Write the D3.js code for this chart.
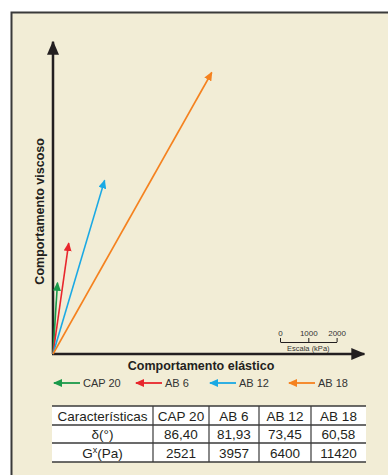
<!DOCTYPE html>
<html>
<head>
<meta charset="utf-8">
<script src="https://cdn.jsdelivr.net/npm/d3@7"></script>
<style>
  body { margin: 0; background: #fff; }
  svg { display: block; font-family: "Liberation Sans", Arial, sans-serif; }
</style>
</head>
<body>
<script>
// data
const series = ["CAP 20", "AB 6", "AB 12", "AB 18"];
const delta = [86.40, 81.93, 73.45, 60.58];      // phase angle (degrees)
const gstar = [2521, 3957, 6400, 11420];         // complex modulus
const colors = ["#1a9a4a", "#e8262c", "#1aa9e4", "#f5821f"];
const scaleTicks = [0, 1000, 2000];
const tableHeader = ["Características", ...series];

const width = 388;
const height = 475;
const origin = { x: 53, y: 354 };
const k = 0.0283; // px per unit, shared by vectors and scale bar

const svg = d3.select("body").append("svg")
    .attr("width", width)
    .attr("height", height);

// panel
svg.append("rect")
    .attr("x", 11.5).attr("y", 12.5)
    .attr("width", 390).attr("height", 480)
    .attr("fill", "#f2edd6")
    .attr("stroke", "#3a3a3a")
    .attr("stroke-width", 2);

const defs = svg.append("defs");
defs.append("marker")
    .attr("id", "axis-head")
    .attr("viewBox", "0 0 14 12")
    .attr("refX", 13).attr("refY", 6)
    .attr("markerWidth", 14).attr("markerHeight", 12)
    .attr("markerUnits", "userSpaceOnUse")
    .attr("orient", "auto")
    .append("path").attr("d", "M0,0L14,6L0,12Z").attr("fill", "#231f20");

colors.forEach((c, i) => {
    defs.append("marker")
        .attr("id", `head-${i}`)
        .attr("viewBox", "0 0 9 8")
        .attr("refX", 8).attr("refY", 4)
        .attr("markerWidth", 9).attr("markerHeight", 8)
        .attr("markerUnits", "userSpaceOnUse")
        .attr("orient", "auto-start-reverse")
        .append("path").attr("d", "M0,0L9,4L0,8Z").attr("fill", c);
});

const x = d3.scaleLinear().domain([0, 11000]).range([origin.x, origin.x + 11000 * k]);
const y = d3.scaleLinear().domain([0, 11000]).range([origin.y, origin.y - 11000 * k]);

// axes
svg.append("line")
    .attr("x1", x(0)).attr("y1", y(0))
    .attr("x2", x(0)).attr("y2", y(11000) - 1)
    .attr("stroke", "#231f20").attr("stroke-width", 2.5)
    .attr("marker-end", "url(#axis-head)");
svg.append("line")
    .attr("x1", x(0) - 1).attr("y1", y(0))
    .attr("x2", x(11000)).attr("y2", y(0))
    .attr("stroke", "#231f20").attr("stroke-width", 2.5)
    .attr("marker-end", "url(#axis-head)");

svg.append("text")
    .attr("transform", `translate(44,${(y(0) + y(11000)) / 2 + 13}) rotate(-90)`)
    .attr("text-anchor", "middle")
    .attr("font-size", 12.5).attr("font-weight", "bold").attr("fill", "#231f20")
    .text("Comportamento viscoso");

svg.append("text")
    .attr("x", 201).attr("y", 370)
    .attr("text-anchor", "middle")
    .attr("font-size", 12.5).attr("font-weight", "bold").attr("fill", "#231f20")
    .text("Comportamento elástico");

// vectors
const rad = d3.scaleLinear().domain([0, 180]).range([0, Math.PI]);
svg.append("g").selectAll("line")
    .data(series)
    .join("line")
    .attr("x1", x(0)).attr("y1", y(0))
    .attr("x2", (d, i) => x(gstar[i] * Math.cos(rad(delta[i]))))
    .attr("y2", (d, i) => y(gstar[i] * Math.sin(rad(delta[i]))))
    .attr("stroke", (d, i) => colors[i])
    .attr("stroke-width", 1.6)
    .attr("marker-end", (d, i) => `url(#head-${i})`);

// scale bar
const sb = d3.scaleLinear().domain([0, 2000]).range([280, 280 + 2000 * k]);
const sbAxis = svg.append("g")
    .attr("transform", "translate(0,342)")
    .call(d3.axisTop(sb).tickValues(scaleTicks).tickFormat(d3.format("d"))
        .tickSize(4).tickSizeOuter(0).tickPadding(2));
sbAxis.select(".domain").attr("stroke", "#231f20");
sbAxis.selectAll(".tick line").attr("stroke", "#231f20");
sbAxis.selectAll("text")
    .attr("font-family", "Liberation Sans, Arial, sans-serif")
    .attr("font-size", 8).attr("fill", "#333");
svg.append("text")
    .attr("x", sb(1000)).attr("y", 351)
    .attr("text-anchor", "middle")
    .attr("font-size", 7.5).attr("fill", "#333")
    .text("Escala (kPa)");

// legend
const legendX = [53, 135, 209, 288];
const legend = svg.append("g").selectAll("g")
    .data(series)
    .join("g")
    .attr("transform", (d, i) => `translate(${legendX[i]},383)`);
legend.append("line")
    .attr("x1", 1).attr("x2", 27)
    .attr("y1", 0).attr("y2", 0)
    .attr("stroke", (d, i) => colors[i])
    .attr("stroke-width", 1.8)
    .attr("marker-start", (d, i) => `url(#head-${i})`);
legend.append("text")
    .attr("x", 30).attr("y", 4)
    .attr("font-size", 11).attr("fill", "#333")
    .text(d => d);

// table
const colEdges = [52, 153, 209, 259, 311, 366];
const rowEdges = [406, 425, 443, 462];
const fmt = v => d3.format(".2f")(v).replace(".", ",");
const rows = [
    tableHeader,
    ["δ(°)", ...delta.map(fmt)],
    ["G*(Pa)", ...gstar.map(String)]
];

const table = svg.append("g");
table.append("rect")
    .attr("x", colEdges[0]).attr("y", rowEdges[0])
    .attr("width", colEdges[5] - colEdges[0])
    .attr("height", rowEdges[3] - rowEdges[0])
    .attr("fill", "#fff");
rows.forEach((row, r) => {
    row.forEach((cell, c) => {
        const cx = (colEdges[c] + colEdges[c + 1]) / 2;
        const t = table.append("text")
            .attr("x", cx).attr("y", rowEdges[r + 1] - 4)
            .attr("text-anchor", "middle")
            .attr("font-size", 13.5).attr("fill", "#231f20");
        if (r === 2 && c === 0) {
            t.append("tspan").text("G");
            t.append("tspan").attr("font-size", 9).attr("dy", -5).text("x");
            t.append("tspan").attr("dy", 5).text("(Pa)");
        } else {
            t.text(cell);
        }
    });
});
rowEdges.forEach(yy => {
    table.append("line")
        .attr("x1", colEdges[0]).attr("x2", colEdges[5])
        .attr("y1", yy).attr("y2", yy)
        .attr("stroke", "#3a3a3a").attr("stroke-width", 1.5);
});
colEdges.slice(1, 5).forEach(xx => {
    table.append("line")
        .attr("x1", xx).attr("x2", xx)
        .attr("y1", rowEdges[0]).attr("y2", rowEdges[3])
        .attr("stroke", "#3a3a3a").attr("stroke-width", 1.2);
});
</script>
</body>
</html>
